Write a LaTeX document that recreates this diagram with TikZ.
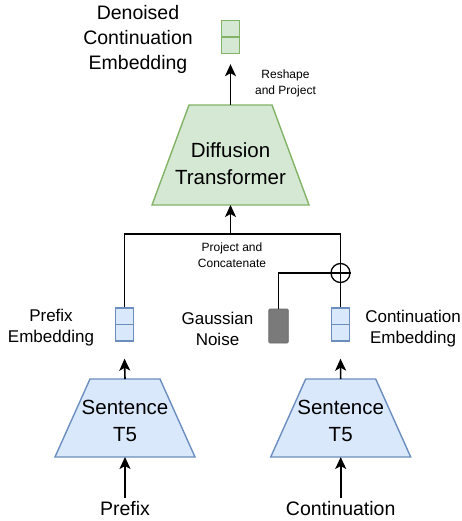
\documentclass[tikz,border=0pt]{standalone}
\usepackage{fontspec}
\setmainfont{Liberation Sans}
\usetikzlibrary{arrows.meta}

\definecolor{greenfill}{HTML}{D5E8D4}
\definecolor{greenline}{HTML}{82B366}
\definecolor{bluefill}{HTML}{DAE8FC}
\definecolor{blueline}{HTML}{6C8EBF}
\definecolor{noisefill}{HTML}{7A7A7A}

\tikzset{
  bigtext/.style={font=\fontsize{20.5}{27}\selectfont, align=center, inner sep=0pt},
  midtext/.style={font=\fontsize{19.5}{25}\selectfont, align=center, inner sep=0pt},
  labeltext/.style={font=\fontsize{17}{21}\selectfont, align=center, inner sep=0pt},
  smalltext/.style={font=\fontsize{12}{16}\selectfont, align=center, inner sep=0pt},
  trapline/.style={line width=1.4pt, line join=miter},
  greentrap/.style={trapline, draw=greenline, fill=greenfill},
  bluetrap/.style={trapline, draw=blueline, fill=bluefill},
  embbox/.style={rectangle, minimum width=17.5pt, minimum height=33pt, inner sep=0pt, line width=1.4pt},
  conn/.style={line width=1.6pt},
  arrowline/.style={conn, -{Stealth[length=12pt, width=11pt, inset=3pt]}},
}

\begin{document}
\begin{tikzpicture}[x=1pt, y=-1pt]
\useasboundingbox (0,0) rectangle (462,521);

% Diffusion transformer: trapezoid, narrow side on top
\draw[greentrap] (189,105) -- (272,105) -- (309,205) -- (152,205) -- cycle;
\coordinate (dttop) at (230.5,105);
\coordinate (dtbot) at (230.5,205);
\node[bigtext] (dtlabel) at (230.5,163.5) {Diffusion\\Transformer};

% Output embedding
\node[embbox, draw=greenline, fill=greenfill] (out) at (230.5,37) {};
\draw[greenline, line width=1.4pt] (out.west) -- (out.east);
\node[midtext] (outlabel) at (138,39) {Denoised\\Continuation\\Embedding};
\node[smalltext] (reshape) at (285.5,83.5) {Reshape\\and Project};

% Sentence T5 encoders
\draw[bluetrap] (90,379) -- (160,379) -- (195,457) -- (55,457) -- cycle;
\coordinate (encltop) at (125,379);
\coordinate (enclbot) at (125,457);
\node[bigtext] (encllabel) at (125,420.5) {Sentence\\T5};

\draw[bluetrap] (305.7,379) -- (375.7,379) -- (410.7,457) -- (270.7,457) -- cycle;
\coordinate (encrtop) at (340.7,379);
\coordinate (encrbot) at (340.7,457);
\node[bigtext] (encrlabel) at (340.7,420.5) {Sentence\\T5};

% Inputs
\node[midtext] (prefix) at (125,508.5) {Prefix};
\node[midtext] (cont) at (340.7,508.5) {Continuation};

% Embeddings
\node[embbox, draw=blueline, fill=bluefill] (pe) at (124.5,324.5) {};
\draw[blueline, line width=1.4pt] (pe.west) -- (pe.east);
\node[labeltext] (pelabel) at (51,327.5) {Prefix\\Embedding};

\node[embbox, draw=blueline, fill=bluefill] (ce) at (340.5,324.5) {};
\draw[blueline, line width=1.4pt] (ce.west) -- (ce.east);
\node[labeltext] (celabel) at (413,328.5) {Continuation\\Embedding};

\node[rectangle, rounded corners=1pt, minimum width=19.5pt, minimum height=34pt,
      inner sep=0pt, fill=noisefill, draw=noisefill!85!black, line width=0.6pt] (noise) at (278.5,326) {};
\node[labeltext] (noiselabel) at (217.5,329) {Gaussian\\Noise};

% Noise addition
\node[circle, draw, line width=1.3pt, minimum size=19pt, inner sep=0pt] (plus) at (340.5,273) {};
\draw[line width=1.3pt] (plus.north) -- (plus.south) (plus.west) -- (plus.east);

% Connectors
\coordinate (join) at (230.5,234);
\draw[conn] (pe.north) -- (pe.north |- join) -- (plus.north |- join) -- (plus.north);
\draw[conn] (plus.south) -- (ce.north);
\draw[conn] (noise.north) -- (noise.north |- plus.west) -- (plus.west);
\draw[arrowline] (join) -- (dtbot);
\node[smalltext] (projcat) at (232,255.5) {Project and\\Concatenate};

\draw[arrowline] (dttop) -- ([yshift=-10pt]out.south);
\draw[arrowline] (encltop) -- ([yshift=-17pt]pe.south);
\draw[arrowline] (encrtop) -- ([yshift=-17pt]ce.south);
\draw[arrowline] ([yshift=3pt]prefix.north) -- (enclbot);
\draw[arrowline] ([yshift=3pt]cont.north) -- (encrbot);
\end{tikzpicture}
\end{document}
